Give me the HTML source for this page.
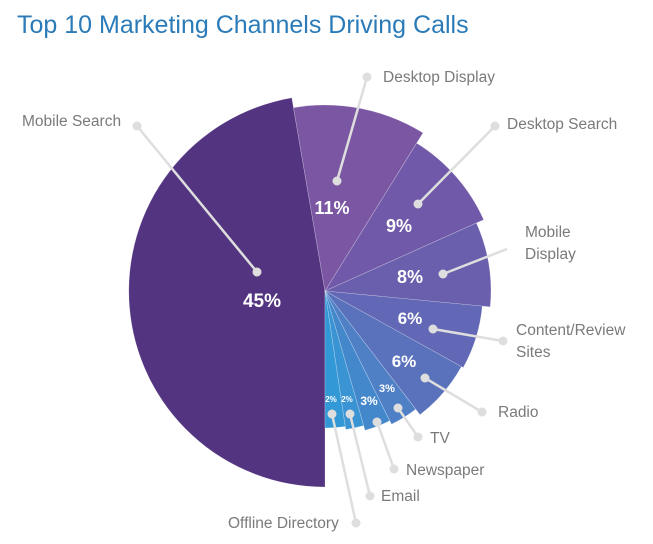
<!DOCTYPE html>
<html><head><meta charset="utf-8"><style>
html,body{margin:0;padding:0;background:#fff;width:653px;height:544px;overflow:hidden}
svg{display:block}
.l{font-family:"Liberation Sans",sans-serif;font-size:15.5px;fill:#7a7a7a}
.p{font-family:"Liberation Sans",sans-serif;font-weight:bold;fill:#fff;text-anchor:middle}
</style></head><body>
<svg id="s" width="653" height="544" viewBox="0 0 653 544">
<text x="17" y="33" font-family="Liberation Sans,sans-serif" font-size="25" fill="#2b7bb9">Top 10 Marketing Channels Driving Calls</text>
<g id="pie"></g>
<g stroke="#dedede" stroke-width="2.5" fill="none">
<line x1="137" y1="126" x2="257" y2="272"/>
<line x1="367" y1="77" x2="337" y2="181"/>
<line x1="495" y1="126" x2="418" y2="204"/>
<line x1="443" y1="274" x2="507" y2="249"/>
<line x1="433" y1="329" x2="503" y2="341"/>
<line x1="425" y1="378" x2="482" y2="412"/>
<line x1="398" y1="408" x2="418" y2="437"/>
<line x1="377" y1="422" x2="394" y2="469"/>
<line x1="350" y1="414" x2="370" y2="496"/>
<line x1="332" y1="414" x2="356" y2="523"/>
</g>
<g fill="#dedede">
<circle cx="137" cy="126" r="4.5"/><circle cx="257" cy="272" r="4.5"/>
<circle cx="367" cy="77" r="4.5"/><circle cx="337" cy="181" r="4.5"/>
<circle cx="495" cy="126" r="4.5"/><circle cx="418" cy="204" r="4.5"/>
<circle cx="443" cy="274" r="4.5"/><circle cx="433" cy="329" r="4.5"/><circle cx="503" cy="341" r="4.5"/>
<circle cx="425" cy="378" r="4.5"/><circle cx="482" cy="412" r="4.5"/>
<circle cx="398" cy="408" r="4.5"/><circle cx="418" cy="437" r="4.5"/>
<circle cx="377" cy="422" r="4.5"/><circle cx="394" cy="469" r="4.5"/>
<circle cx="350" cy="414" r="4.5"/><circle cx="370" cy="496" r="4.5"/>
<circle cx="332" cy="414" r="4.5"/><circle cx="356" cy="523" r="4.5"/>
</g>
<text class="l" x="22" y="126">Mobile Search</text>
<text class="l" x="383" y="82">Desktop Display</text>
<text class="l" x="507" y="129">Desktop Search</text>
<text class="l" x="525" y="237">Mobile</text>
<text class="l" x="525" y="259">Display</text>
<text class="l" x="516" y="335">Content/Review</text>
<text class="l" x="516" y="357">Sites</text>
<text class="l" x="498" y="417">Radio</text>
<text class="l" x="430" y="443">TV</text>
<text class="l" x="406" y="475">Newspaper</text>
<text class="l" x="381" y="501">Email</text>
<text class="l" x="228" y="528">Offline Directory</text>
<text class="p" x="262" y="307" font-size="19">45%</text>
<text class="p" x="332" y="214" font-size="18">11%</text>
<text class="p" x="399" y="232" font-size="18">9%</text>
<text class="p" x="410" y="283" font-size="18">8%</text>
<text class="p" x="410" y="324" font-size="17">6%</text>
<text class="p" x="404" y="367" font-size="17">6%</text>
<text class="p" x="387" y="392" font-size="11">3%</text>
<text class="p" x="369" y="405" font-size="12">3%</text>
<text class="p" x="331" y="402" font-size="8">2%</text>
<text class="p" x="347" y="402" font-size="8">2%</text>
</svg>
<script>
var cx=325,cy=291;
var sl=[[180,350.25,196,"#533480"],[350.25,391.8,186,"#7a56a3"],[31.8,65.8,174,"#7059a8"],[65.8,95.5,166,"#6a5fad"],[95.5,119,158,"#6268b5"],[119,142.5,156,"#5a72bc"],[142.5,153.5,149,"#4f80c6"],[153.5,164,145,"#4488cc"],[164,171.5,140,"#3a93d2"],[171.5,180,137,"#3399d6"]];
function pt(a,r){var t=a*Math.PI/180;return [cx+r*Math.sin(t),cy-r*Math.cos(t)];}
var h="";
sl.forEach(function(s){var a=pt(s[0],s[2]),b=pt(s[1],s[2]);var lg=(s[1]-s[0])>180?1:0;
h+='<path d="M'+cx+','+cy+'L'+a[0].toFixed(1)+','+a[1].toFixed(1)+'A'+s[2]+','+s[2]+' 0 '+lg+' 1 '+b[0].toFixed(1)+','+b[1].toFixed(1)+'Z" fill="'+s[3]+'" stroke="rgba(255,255,255,0.35)" stroke-width="0.6"/>';});
document.getElementById("pie").innerHTML=h;
</script>
</body></html>
